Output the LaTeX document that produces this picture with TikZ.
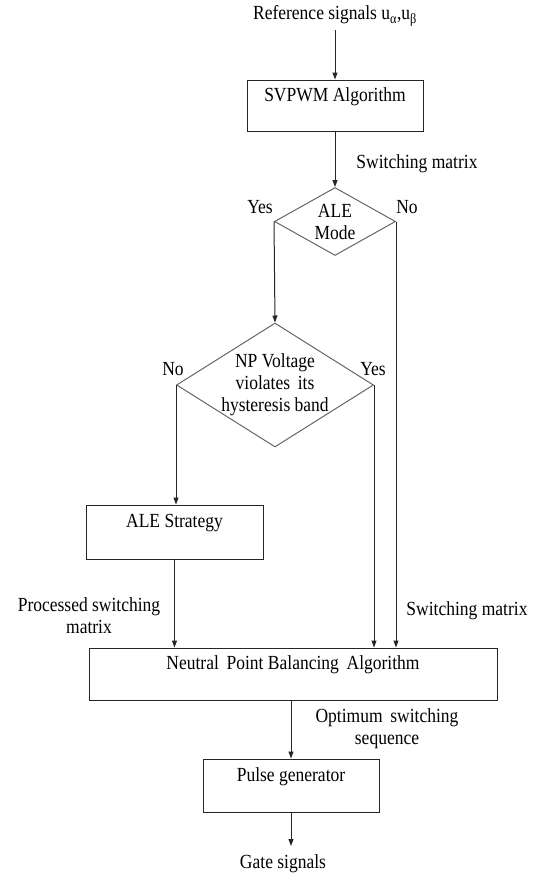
\documentclass[tikz,border=0pt]{standalone}
\usepackage{fontspec}
\setmainfont{Liberation Serif}[FakeStretch=0.875]
\usetikzlibrary{arrows.meta,shapes.geometric}
\begin{document}
\begin{tikzpicture}[x=1pt,y=-1pt,
  every node/.style={font=\fontsize{20}{22}\selectfont, inner sep=0pt},
  box/.style={draw=black!85, line width=1pt, minimum width=#1},
  dia/.style={draw=black!60, line width=1pt, diamond},
  arr/.style={draw=black!85, line width=1pt, -{Triangle[length=7pt,width=5pt]}},
  lbl/.style={align=center}]
\useasboundingbox (0,0) rectangle (533,875);
% boxes
\node[box=176pt, minimum height=51pt] (svpwm) at (335,105.5) {};
\node (svpwmt) at (335,97) {SVPWM Algorithm};
\node[box=177pt, minimum height=54pt] (alestr) at (174.5,532) {};
\node (alestrt) at (174.5,523) {ALE Strategy};
\node[box=408pt, minimum height=52pt] (npb) at (293,674) {};
\node (npbt) at (293,665) {Neutral\, Point Balancing\, Algorithm};
\node[box=176pt, minimum height=53pt] (pulse) at (291,785.5) {};
\node (pulset) at (291,777) {Pulse generator};
% diamonds
\node[dia, minimum width=121pt, minimum height=68pt] (ale) at (335,221.5) {};
\node[lbl] (alet) at (335,222) {ALE\\Mode};
\node[dia, minimum width=197pt, minimum height=124pt] (np) at (275,385) {};
\node[lbl] (npt) at (275,385) {NP Voltage\\violates\, its\\hysteresis band};
% texts
\node (ref) at (335,16) {Reference signals u\textsubscript{α},u\textsubscript{β}};
\node (gate) at (283,864) {Gate signals};
\node (sm1) at (417,164) {Switching matrix};
\node (yes1) at (260,207) {Yes};
\node (no1) at (407,207) {No};
\node (no2) at (173,369) {No};
\node (yes2) at (373,369) {Yes};
\node[lbl] (psm) at (89,616) {Processed switching\\matrix};
\node (sm2) at (467,611) {Switching matrix};
\node[lbl] (oss) at (387,729) {Optimum\, switching\\sequence};
% connectors
\coordinate (refb) at (335,30);
\draw[arr] (refb) -- (svpwm.north);
\draw[arr] (svpwm.south) -- (ale.north);
\draw[arr] (ale.west) -- (np.north);
\draw[arr] (ale.east) -- (ale.east |- npb.north);
\draw[arr] (np.east) -- (np.east |- npb.north);
\draw[arr] (np.west) -- (np.west |- alestr.north);
\draw[arr] (alestr.south) -- (alestr.south |- npb.north);
\draw[arr] (pulse.north |- npb.south) -- (pulse.north);
\coordinate (gtop) at (291,846);
\draw[arr] (pulse.south) -- (gtop);
\end{tikzpicture}
\end{document}
